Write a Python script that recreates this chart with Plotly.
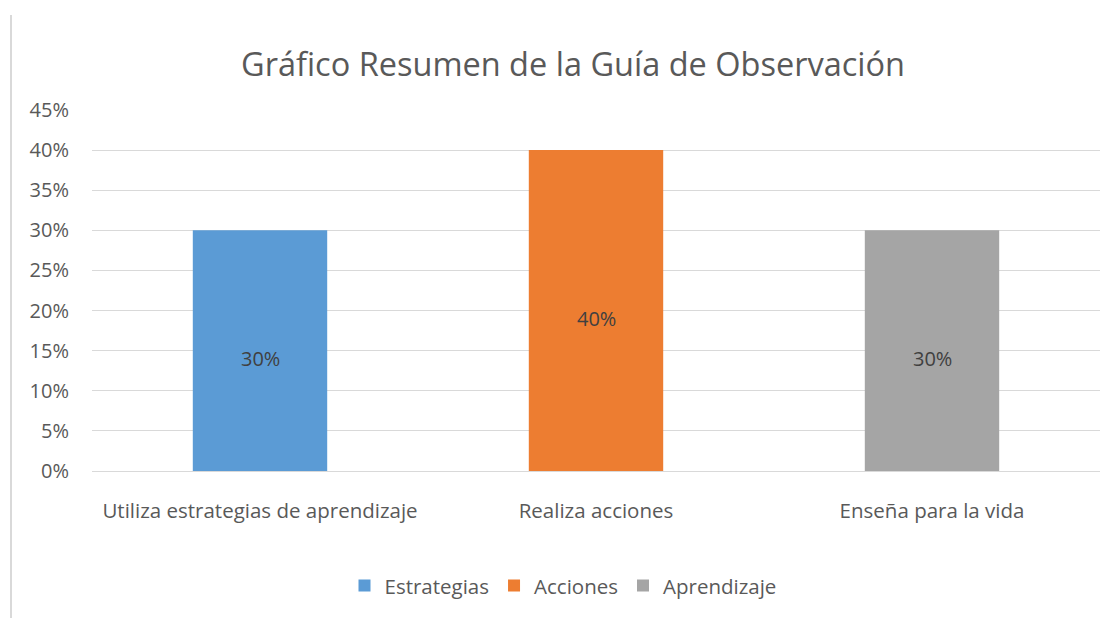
import plotly.graph_objects as go

categories = ["Utiliza estrategias de aprendizaje", "Realiza acciones", "Enseña para la vida"]
series_names = ["Estrategias", "Acciones", "Aprendizaje"]
values = [0.30, 0.40, 0.30]
colors = ["#5B9BD5", "#ED7D31", "#A5A5A5"]
tick_vals = [0, 0.05, 0.10, 0.15, 0.20, 0.25, 0.30, 0.35, 0.40, 0.45]
tick_text = ["0%", "5%", "10%", "15%", "20%", "25%", "30%", "35%", "40%", "45%"]

FONT = "Open Sans, Noto Sans, sans-serif"
W, H = 1114, 618
L, R, T, B = 92, 14, 110, 143
PW, PH = W - L - R, H - T - B

fig = go.Figure()
for name, cat, val, col in zip(series_names, categories, values, colors):
    fig.add_trace(go.Bar(
        x=[cat], y=[val], name=name, marker=dict(color=col, line=dict(width=0)),
        width=0.4, hoverinfo="skip",
    ))
    fig.add_annotation(x=cat, y=val / 2, text=f"{val*100:.0f}%", showarrow=False,
                       yshift=-8, font=dict(size=20, color="#404040", family=FONT))

fig.update_layout(
    width=W, height=H,
    margin=dict(l=L, r=R, t=T, b=B),
    paper_bgcolor="white", plot_bgcolor="white",
    barmode="overlay",
    title=dict(text="Gráfico Resumen de la Guía de Observación", x=(573 - L) / PW, xanchor="center",
               xref="paper", y=1 - 65 / H, yanchor="middle", yref="container",
               font=dict(size=32.5, color="#595959", family=FONT)),
    showlegend=True,
    legend=dict(orientation="h", x=(563 - L) / PW, xanchor="center",
                y=(H - B - 591) / PH, yanchor="middle",
                font=dict(size=20.5, color="#595959", family=FONT), traceorder="normal",
                itemwidth=30),
    font=dict(family=FONT, color="#595959"),
)
fig.update_xaxes(categoryorder="array", categoryarray=categories, showgrid=False,
                 showline=False, ticks="", ticklabelstandoff=25,
                 tickfont=dict(size=20.5, color="#595959", family=FONT))
fig.update_yaxes(range=[0, 0.45], tickvals=tick_vals, ticktext=tick_text,
                 showgrid=True, gridcolor="#D9D9D9", gridwidth=1, zeroline=True,
                 zerolinecolor="#D9D9D9", zerolinewidth=1, showline=False, ticks="",
                 ticklabelstandoff=22,
                 tickfont=dict(size=20, color="#595959", family=FONT))
fig.add_shape(type="line", xref="paper", yref="paper",
              x0=(11 - L) / PW, x1=(11 - L) / PW,
              y0=(H - B - 14) / PH, y1=(H - B - 625) / PH,
              line=dict(color="#D9D9D9", width=2))
fig.write_html("out.html", config={"displayModeBar": False},
               post_script="document.body.style.margin='0';document.body.style.overflow='hidden';")
